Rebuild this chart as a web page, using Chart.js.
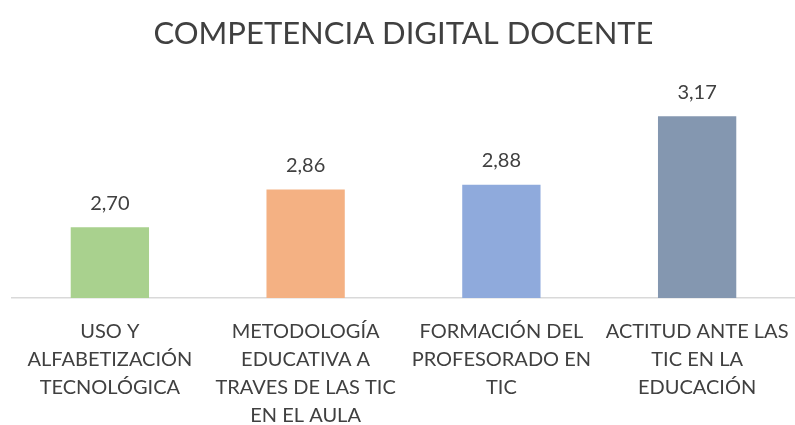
<!DOCTYPE html>
<html>
<head>
<meta charset="utf-8">
<script src="https://cdn.jsdelivr.net/npm/chart.js@4.4.1/dist/chart.umd.min.js"></script>
<style>
  html, body { margin: 0; padding: 0; background: #fff; }
  #wrap { width: 795px; height: 425px; }
</style>
</head>
<body>
<div id="wrap"><canvas id="chart"></canvas></div>
<script>
// ---- データ ----
const categories = [
  ['USO Y', 'ALFABETIZACIÓN', 'TECNOLÓGICA'],
  ['METODOLOGÍA', 'EDUCATIVA A', 'TRAVES DE LAS TIC', 'EN EL AULA'],
  ['FORMACIÓN DEL', 'PROFESORADO EN', 'TIC'],
  ['ACTITUD ANTE LAS', 'TIC EN LA', 'EDUCACIÓN'],
];
const values = [2.70, 2.86, 2.88, 3.17];
const barColors = ['#a9d18e', '#f4b183', '#8faadc', '#8497b0'];
const axisMin = 2.4;
const axisMax = 3.2;

const FONT = 'Lato, "Open Sans", sans-serif';
const TEXT = '#404040';

// ---- 値ラベル（小数点はカンマ） ----
const valueLabels = {
  id: 'valueLabels',
  afterDatasetsDraw(chart) {
    const ctx = chart.ctx;
    const meta = chart.getDatasetMeta(0);
    ctx.save();
    ctx.font = '20px ' + FONT;
    ctx.fillStyle = TEXT;
    ctx.textAlign = 'center';
    ctx.textBaseline = 'middle';
    meta.data.forEach((bar, i) => {
      const txt = values[i].toFixed(2).replace('.', ',');
      ctx.fillText(txt, bar.x, bar.y - 24);
    });
    ctx.restore();
  },
};

new Chart(document.getElementById('chart'), {
  type: 'bar',
  data: {
    labels: categories,
    datasets: [{
      data: values,
      backgroundColor: barColors,
      borderWidth: 0,
      categoryPercentage: 1,
      barPercentage: 0.40,
    }],
  },
  options: {
    responsive: true,
    maintainAspectRatio: false,
    animation: false,
    layout: { padding: { left: 12, right: 0, top: 0, bottom: 0 } },
    plugins: {
      legend: { display: false },
      tooltip: { enabled: false },
      title: {
        display: true,
        text: 'COMPETENCIA DIGITAL DOCENTE',
        color: TEXT,
        font: { family: FONT, size: 31, weight: 'normal' },
        padding: { top: 15, bottom: 57 },
      },
    },
    scales: {
      x: {
        grid: { display: false, drawTicks: false },
        border: { display: true, color: '#d9d9d9', width: 1.5 },
        ticks: {
          color: TEXT,
          font: { family: FONT, size: 20, lineHeight: 1.4 },
          padding: 20,
          maxRotation: 0,
          autoSkip: false,
        },
        afterFit(scale) {
          scale.height = 127;
          scale.paddingLeft = 0;
          scale.paddingRight = 0;
        },
      },
      y: {
        display: false,
        min: axisMin,
        max: axisMax,
      },
    },
  },
  plugins: [valueLabels],
});
</script>
</body>
</html>
